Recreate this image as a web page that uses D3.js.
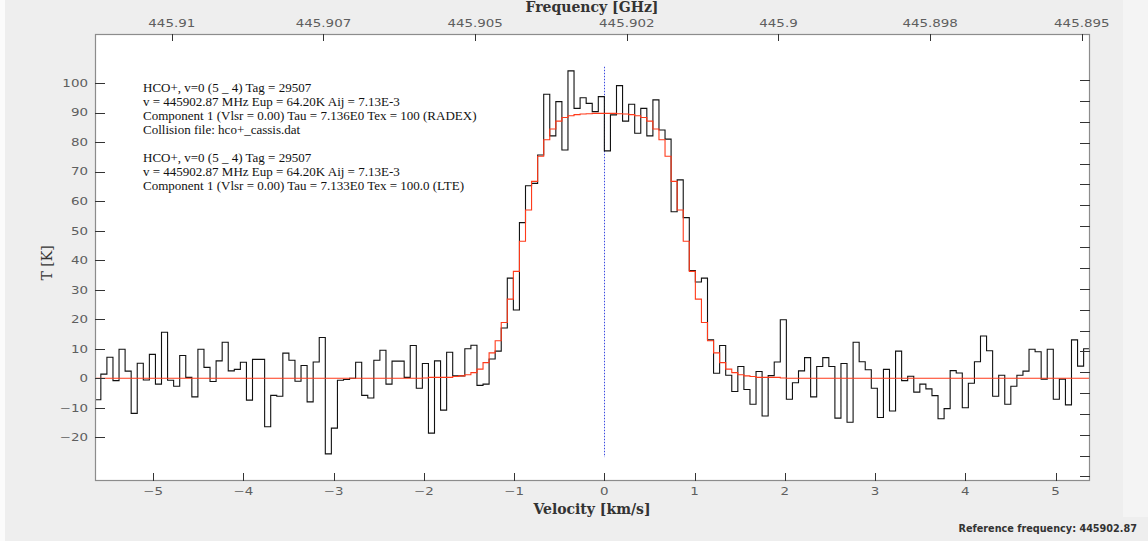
<!DOCTYPE html>
<html><head><meta charset="utf-8">
<script src="https://cdn.jsdelivr.net/npm/d3@7"></script>
<style>html,body{margin:0;padding:0;background:#fff;overflow:hidden}</style>
</head><body><svg id="c" width="1148" height="541"></svg>
<script>
// ---------------- data ----------------
const refFreqMHz = 445902.87;       // reference frequency
const channelWidthMHz = 0.1;        // spectral channel width
const firstChannel = -84;           // index of first channel edge (edge k at v = k*dv)
// observed brightness temperature per channel [K]
const observedT = [
 -7.3, 1.4, 7.1, -0.8, 9.8, 2.4, -11.9, 5.1, -0.6, 8.1,
 -2.0, 15.6, -0.7, -2.7, 7.7, 0.3, -6.3, 9.8, 3.7, -1.1,
 5.9, 12.2, 2.5, 3.0, 5.4, -7.4, 6.4, 6.4, -16.4, -5.8,
 -6.1, 8.5, 6.1, -1.0, 4.3, -8.0, 5.5, 13.8, -25.6, -16.9,
 -0.7, -0.4, 0.0, 5.4, -5.8, -6.7, 6.1, 9.5, -2.0, 5.8,
 5.8, 0.3, 11.1, -3.4, 5.0, -18.6, 5.9, -10.8, 8.8, 0.8,
 0.8, 10.0, 11.2, -2.4, -2.0, 6.5, 9.2, 17.0, 33.9, 23.1,
 52.7, 65.2, 66.0, 75.6, 96.2, 82.1, 93.7, 77.3, 104.1, 91.4,
 95.0, 93.1, 90.3, 95.4, 77.0, 89.2, 99.1, 87.1, 92.8, 83.0,
 91.4, 82.1, 94.3, 84.1, 81.0, 56.4, 67.2, 54.4, 36.5, 32.6,
 33.9, 13.0, 1.7, 11.1, 1.0, -4.5, 4.0, -3.8, -8.8, 2.3,
 -12.8, 0.9, 5.5, 19.8, -7.1, -1.5, 2.5, 7.0, -6.3, 4.0,
 7.0, 4.0, -13.5, 5.0, -14.9, 12.2, 5.6, 2.9, -3.4, -13.3,
 3.0, -11.1, 9.2, -0.8, 0.7, -4.7, -2.0, -3.6, -5.9, -13.7,
 -10.3, 2.6, 1.8, -10.0, -1.7, 5.6, 14.3, 9.3, -6.1, 1.0,
 -8.8, -2.7, 1.0, 2.4, 9.8, 9.0, -0.3, 9.8, -7.1, -0.3,
 -9.0, 13.0, 4.1, 10.0
];
// model (RADEX / LTE) temperature per channel [K]
const modelT = [
 0,0,0,0,0,0,0,0,0,0,
 0,0,0,0,0,0,0,0,0,0,
 0,0,0,0,0,0,0,0,0,0,
 0,0,0,0,0,0,0,0,0,0,
 0,0,0,0,0,0,0,0,0,0,
 0,0,0,0,0.1,0.3,0.3,0.3,0.3,0.6,
 0.8,1.2,1.9,3.1,5.3,8.6,12.7,18.9,26.8,36.2,
 46.4,57.0,66.7,75.2,80.8,84.4,87.1,88.3,88.9,89.3,
 89.5,89.6,89.7,89.7,89.7,89.7,89.6,89.5,89.3,88.9,
 88.3,87.1,84.4,80.8,75.2,66.7,57.0,46.4,36.2,26.8,
 18.9,12.7,8.6,5.3,3.1,1.9,1.2,0.8,0.6,0.3,
 0.3,0.3,0.3,0.1,0,0,0,0,0,0,
 0,0,0,0,0,0,0,0,0,0,
 0,0,0,0,0,0,0,0,0,0,
 0,0,0,0,0,0,0,0,0,0,
 0,0,0,0,0,0,0,0,0,0,
 0,0,0,0
];
const velocityTicks = [-5,-4,-3,-2,-1,0,1,2,3,4,5];
const tempTicks = [-20,-10,0,10,20,30,40,50,60,70,80,90,100];
const freqTickValues = [445.91,445.9075,445.905,445.9025,445.9,445.8975,445.895];
const freqTickLabels = ["445.91","445.907","445.905","445.902","445.9","445.898","445.895"];
const rightTicks = [101.0,93.9,86.9,79.8,72.7,65.7,58.6,51.5,44.5,37.4,30.3,23.2,16.1,9.1,2.1,-5.0,-12.1,-19.1,-26.2,-33.2];
const centerLine = [-26.7,105.5];     // dotted line at Vlsr=0
const velDomain = [-5.645,5.382];
const tempDomain = [-34.8,116.6];
const annotations = [
 "HCO+, v=0 (5 _ 4) Tag = 29507",
 "v = 445902.87 MHz Eup = 64.20K Aij = 7.13E-3",
 "Component 1 (Vlsr = 0.00) Tau = 7.136E0 Tex = 100 (RADEX)",
 "Collision file: hco+_cassis.dat",
 "",
 "HCO+, v=0 (5 _ 4) Tag = 29507",
 "v = 445902.87 MHz Eup = 64.20K Aij = 7.13E-3",
 "Component 1 (Vlsr = 0.00) Tau = 7.133E0 Tex = 100.0 (LTE)"
];

// ---------------- drawing ----------------
const C = 299792.458;
const dv = C*channelWidthMHz/refFreqMHz;
const svg = d3.select("#c");
const L=95, R=1090, T=34, B=481;

svg.append("rect").attr("width",1148).attr("height",541).attr("fill","#f4f4f4");
svg.append("rect").attr("x",0).attr("y",0).attr("width",5).attr("height",541).attr("fill","#fbfbfb");
svg.append("rect").attr("x",5).attr("y",0).attr("width",1118).attr("height",517).attr("fill","#eeeeee");
svg.append("rect").attr("x",5).attr("y",517).attr("width",1143).attr("height",24).attr("fill","#eeeeee");

const x = d3.scaleLinear().domain(velDomain).range([L,R]);
const y = d3.scaleLinear().domain(tempDomain).range([B,T]);
const freqToVel = f => C*(refFreqMHz - f*1000)/refFreqMHz;

svg.append("rect").attr("x",L).attr("y",T).attr("width",R-L).attr("height",B-T).attr("fill","#fff");

svg.append("clipPath").attr("id","clp").append("rect")
  .attr("x",L).attr("y",T).attr("width",R-L).attr("height",B-T);

const plot = svg.append("g").attr("clip-path","url(#clp)");

function stepPts(arr){
  const pts = arr.map((t,i)=>[(firstChannel+i)*dv, t]);
  pts.push([(firstChannel+arr.length)*dv, arr[arr.length-1]]);
  return pts;
}
const line = d3.line().x(d=>x(d[0])).y(d=>y(d[1])).curve(d3.curveStepAfter);

// dotted center line
plot.append("line").attr("x1",Math.round(x(0))+0.5).attr("x2",Math.round(x(0))+0.5)
  .attr("y1",y(centerLine[1])).attr("y2",y(centerLine[0]))
  .attr("stroke","#3a4ae0").attr("stroke-width",1).attr("stroke-dasharray","1.5,1.5");

plot.append("path").attr("d",line(stepPts(observedT))).attr("fill","none")
  .attr("stroke","#111").attr("stroke-width",1.1);
plot.append("path").attr("d",line(stepPts(modelT))).attr("fill","none")
  .attr("stroke","#ff3a1a").attr("stroke-width",1.1);

// frame
svg.append("rect").attr("x",L+0.5).attr("y",T+0.5).attr("width",R-L-1).attr("height",B-T-1)
  .attr("fill","none").attr("stroke","#8c8c8c").attr("stroke-width",1.2);

const tickCol="#333";
const labCol="#5e5e5e";
function scaledText(g, tx, ty, txt, anchor){
  g.append("g").attr("transform",`translate(${tx},${ty}) scale(1.28,1)`)
    .append("text").attr("text-anchor",anchor).attr("font-family","DejaVu Sans")
    .attr("font-size",10.5).attr("fill",labCol).text(txt);
}
const axes = svg.append("g");
// left ticks
tempTicks.forEach(t=>{
  const yy=Math.round(y(t))+0.5;
  axes.append("line").attr("x1",L).attr("x2",L+10).attr("y1",yy).attr("y2",yy).attr("stroke",tickCol);
  scaledText(axes, 88, y(t)+3.9, String(t).replace("-","\u2212"), "end");
});
// right ticks
rightTicks.forEach(t=>{
  const yy=Math.round(y(t))+0.5;
  axes.append("line").attr("x1",R-10).attr("x2",R).attr("y1",yy).attr("y2",yy).attr("stroke",tickCol);
});
// bottom ticks
velocityTicks.forEach(v=>{
  const xx=Math.round(x(v))+0.5;
  axes.append("line").attr("x1",xx).attr("x2",xx).attr("y1",B-8).attr("y2",B).attr("stroke",tickCol);
  scaledText(axes, x(v), 495, String(v).replace("-","\u2212"), "middle");
});
// top ticks (frequency)
freqTickValues.forEach((f,i)=>{
  const xx=Math.round(x(freqToVel(f)))+0.5;
  axes.append("line").attr("x1",xx).attr("x2",xx).attr("y1",T).attr("y2",T+7).attr("stroke",tickCol);
  scaledText(axes, x(freqToVel(f)), 26.7, freqTickLabels[i], "middle");
});

// axis titles
svg.append("text").attr("x",592).attr("y",11.5).attr("text-anchor","middle")
  .attr("font-family","DejaVu Serif").attr("font-weight","bold").attr("font-size",14)
  .attr("fill","#333").text("Frequency [GHz]");
svg.append("text").attr("x",592).attr("y",514).attr("text-anchor","middle")
  .attr("font-family","DejaVu Serif").attr("font-weight","bold").attr("font-size",14)
  .attr("fill","#333").text("Velocity [km/s]");
svg.append("text").attr("transform","translate(52,263) rotate(-90)").attr("text-anchor","middle")
  .attr("font-family","DejaVu Serif").attr("font-size",14).attr("fill","#333").text("T [K]");

// annotations
annotations.forEach((s,i)=>{
  if(!s) return;
  svg.append("text").attr("x",143).attr("y",91.5+14*i)
    .attr("font-family","Liberation Serif").attr("font-size",13).attr("fill","#111").text(s);
});

svg.append("text").attr("x",1137).attr("y",532).attr("text-anchor","end")
  .attr("font-family","DejaVu Sans").attr("font-weight","bold").attr("font-size",9.7)
  .attr("fill","#333").text("Reference frequency: " + refFreqMHz.toFixed(2));
</script>
</body></html>
